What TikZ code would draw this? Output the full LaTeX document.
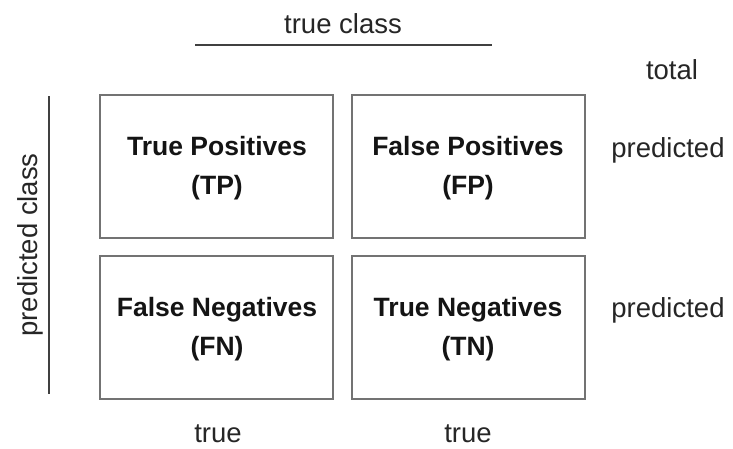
\documentclass[tikz,border=0pt]{standalone}
\usepackage{fontspec}
\setmainfont{Liberation Sans}
\begin{document}
\begin{tikzpicture}[x=1pt,y=-1pt,
  cell/.style={draw=black!55,line width=1.6pt},
  celltext/.style={anchor=base,font=\fontsize{26.5}{30}\selectfont\bfseries,text=black!92,inner sep=0pt},
  lab/.style={anchor=base,font=\fontsize{27.5}{30}\selectfont,text=black!85,inner sep=0pt},
  rule/.style={draw=black!75,line width=1.2pt}]
\useasboundingbox[fill=white] (0,0) rectangle (733,448);
% cells
\draw[cell] (100,95) rectangle (333,238);
\draw[cell] (352,95) rectangle (585,238);
\draw[cell] (100,256) rectangle (333,399);
\draw[cell] (352,256) rectangle (585,399);
% cell texts
\node[celltext] (tp1) at (217,155) {True Positives};
\node[celltext] (tp2) at (217,194) {(TP)};
\node[celltext] (fp1) at (468,155) {False Positives};
\node[celltext] (fp2) at (468,194) {(FP)};
\node[celltext] (fn1) at (217,316) {False Negatives};
\node[celltext] (fn2) at (217,355) {(FN)};
\node[celltext] (tn1) at (468,316) {True Negatives};
\node[celltext] (tn2) at (468,355) {(TN)};
% labels
\node[lab] (tc) at (343,33) {true class};
\coordinate (tl1) at (195,45);
\coordinate (tl2) at (492,45);
\draw[rule] (tl1) -- (tl2);
\node[lab] (tot) at (672,79) {total};
\node[lab] (pr1) at (668,157) {predicted};
\node[lab] (pr2) at (668,317) {predicted};
\node[lab] (tr1) at (218,442) {true};
\node[lab] (tr2) at (468,442) {true};
\node[lab,rotate=90] (pc) at (37,245) {predicted class};
\coordinate (pl1) at (49,96);
\coordinate (pl2) at (49,394);
\draw[rule] (pl1) -- (pl2);
\end{tikzpicture}
\end{document}
